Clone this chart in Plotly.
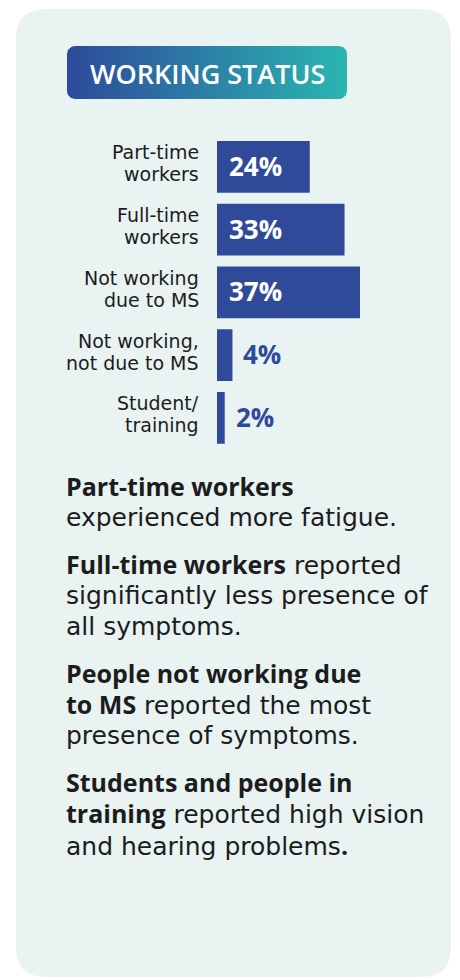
import numpy as np
import plotly.graph_objects as go

# ---------------- data ----------------
categories = ["Part-time<br>workers", "Full-time<br>workers", "Not working<br>due to MS",
              "Not working,<br>not due to MS", "Student/<br>training"]
values = [24, 33, 37, 4, 2]
title_text = "WORKING STATUS"
paragraphs = [
    ["<b>Part-time workers</b>", "experienced more fatigue."],
    ["<b>Full-time workers</b> reported", "significantly less presence of", "all symptoms."],
    ["<b>People not working due</b>", "<b>to MS</b> reported the most", "presence of symptoms."],
    ["<b>Students and people in</b>", "<b>training</b> reported high vision", "and hearing problems<b>.</b>"],
]

# ---------------- style ----------------
W, H = 460, 980
BAR = "#304A9A"
PANEL = "#E9F3F2"
TXT = "#1C1C1C"
FONT = "Open Sans"
LABEL_FONT = "DejaVu Sans"
PX_PER_PCT = 143 / 37.0
BAR_LEFT = 217
PLOT_TOP, PLOT_BOT = 135.4, 449.15

fig = go.Figure()


def rounded_path(x0, y0, x1, y1, r):
    return (f"M{x0+r},{y0} L{x1-r},{y0} Q{x1},{y0} {x1},{y0+r} L{x1},{y1-r} "
            f"Q{x1},{y1} {x1-r},{y1} L{x0+r},{y1} Q{x0},{y1} {x0},{y1-r} "
            f"L{x0},{y0+r} Q{x0},{y0} {x0+r},{y0} Z")


def rounded_poly(x0, y0, x1, y1, r, n=14):
    xs, ys = [], []
    corners = [(x1 - r, y0 + r, -90, 0), (x1 - r, y1 - r, 0, 90),
               (x0 + r, y1 - r, 90, 180), (x0 + r, y0 + r, 180, 270)]
    for cx, cy, a0, a1 in corners:
        t = np.radians(np.linspace(a0, a1, n))
        xs += list(cx + r * np.cos(t))
        ys += list(cy + r * np.sin(t))
    xs.append(xs[0]); ys.append(ys[0])
    return xs, ys


def bold_open(s):
    # bold segments rendered in Open Sans bold, regular text in the label font
    return s.replace("<b>", f'<span style="font-family:{FONT}"><b>').replace("</b>", "</b></span>")


# panel background (pixel overlay axes x/y)
fig.add_shape(type="path", path=rounded_path(16, 9, 451, 977, 30), xref="x", yref="y",
              fillcolor=PANEL, line=dict(width=0), layer="below")

# title badge with horizontal gradient
bx, by = rounded_poly(67, 46, 347, 99, 8)
fig.add_trace(go.Scatter(x=bx, y=by, mode="lines", fill="toself", line=dict(width=0),
                         fillgradient=dict(type="horizontal",
                                           colorscale=[[0, "#2E4A9B"], [1, "#2AB6B1"]]),
                         hoverinfo="skip", showlegend=False, xaxis="x", yaxis="y"))

# bars
fig.add_trace(go.Bar(x=values, y=categories, orientation="h", marker=dict(color=BAR, line=dict(width=0)),
                     hoverinfo="skip", showlegend=False, xaxis="x2", yaxis="y2"))

annotations = []
annotations.append(dict(text=title_text, x=207, y=73, xref="x", yref="y", showarrow=False,
                        xanchor="center", yanchor="middle",
                        font=dict(family=FONT, size=27, color="white", weight=600)))

# value labels
for c, v in zip(categories, values):
    inside = v >= 10
    annotations.append(dict(text=f"{v}%", x=0 if inside else v, y=c, xref="x2", yref="y2",
                            showarrow=False, xanchor="left", yanchor="middle",
                            xshift=10 if inside else 9, yshift=1,
                            font=dict(family=FONT, size=26, weight=700,
                                      color="white" if inside else BAR)))

# category labels, one annotation per line
for c in categories:
    lines = c.split("<br>")
    shifts = [14.5, -7.5]
    for ln, s in zip(lines, shifts):
        annotations.append(dict(text=ln, x=201, y=c, xref="x", yref="y2", showarrow=False,
                                xanchor="right", yanchor="middle", yshift=s,
                                font=dict(family=LABEL_FONT, size=19, color=TXT)))

# paragraphs
size = 25
base = 495
for para in paragraphs:
    for ln in para:
        annotations.append(dict(text=bold_open(ln), x=64, y=base - 0.35 * size, xref="x", yref="y",
                                showarrow=False, xanchor="left", yanchor="middle",
                                font=dict(family=LABEL_FONT, size=size, color=TXT)))
        base += 31.5
    base += 46 - 31.5

fig.update_layout(
    width=W, height=H, margin=dict(l=0, r=0, t=0, b=0),
    paper_bgcolor="white", plot_bgcolor="rgba(0,0,0,0)",
    bargap=0.176,
    xaxis=dict(domain=[0, 1], range=[0, W], visible=False, fixedrange=True),
    yaxis=dict(domain=[0, 1], range=[H, 0], visible=False, fixedrange=True),
    xaxis2=dict(domain=[BAR_LEFT / W, 1], range=[0, (W - BAR_LEFT) / PX_PER_PCT], anchor="y2",
                visible=False, fixedrange=True),
    yaxis2=dict(domain=[1 - PLOT_BOT / H, 1 - PLOT_TOP / H], range=[4.5, -0.5], type="category",
                categoryorder="array", categoryarray=categories, anchor="x2",
                visible=False, fixedrange=True),
    annotations=annotations,
    showlegend=False,
)

fig.write_html("out.html", config={"displayModeBar": False})
